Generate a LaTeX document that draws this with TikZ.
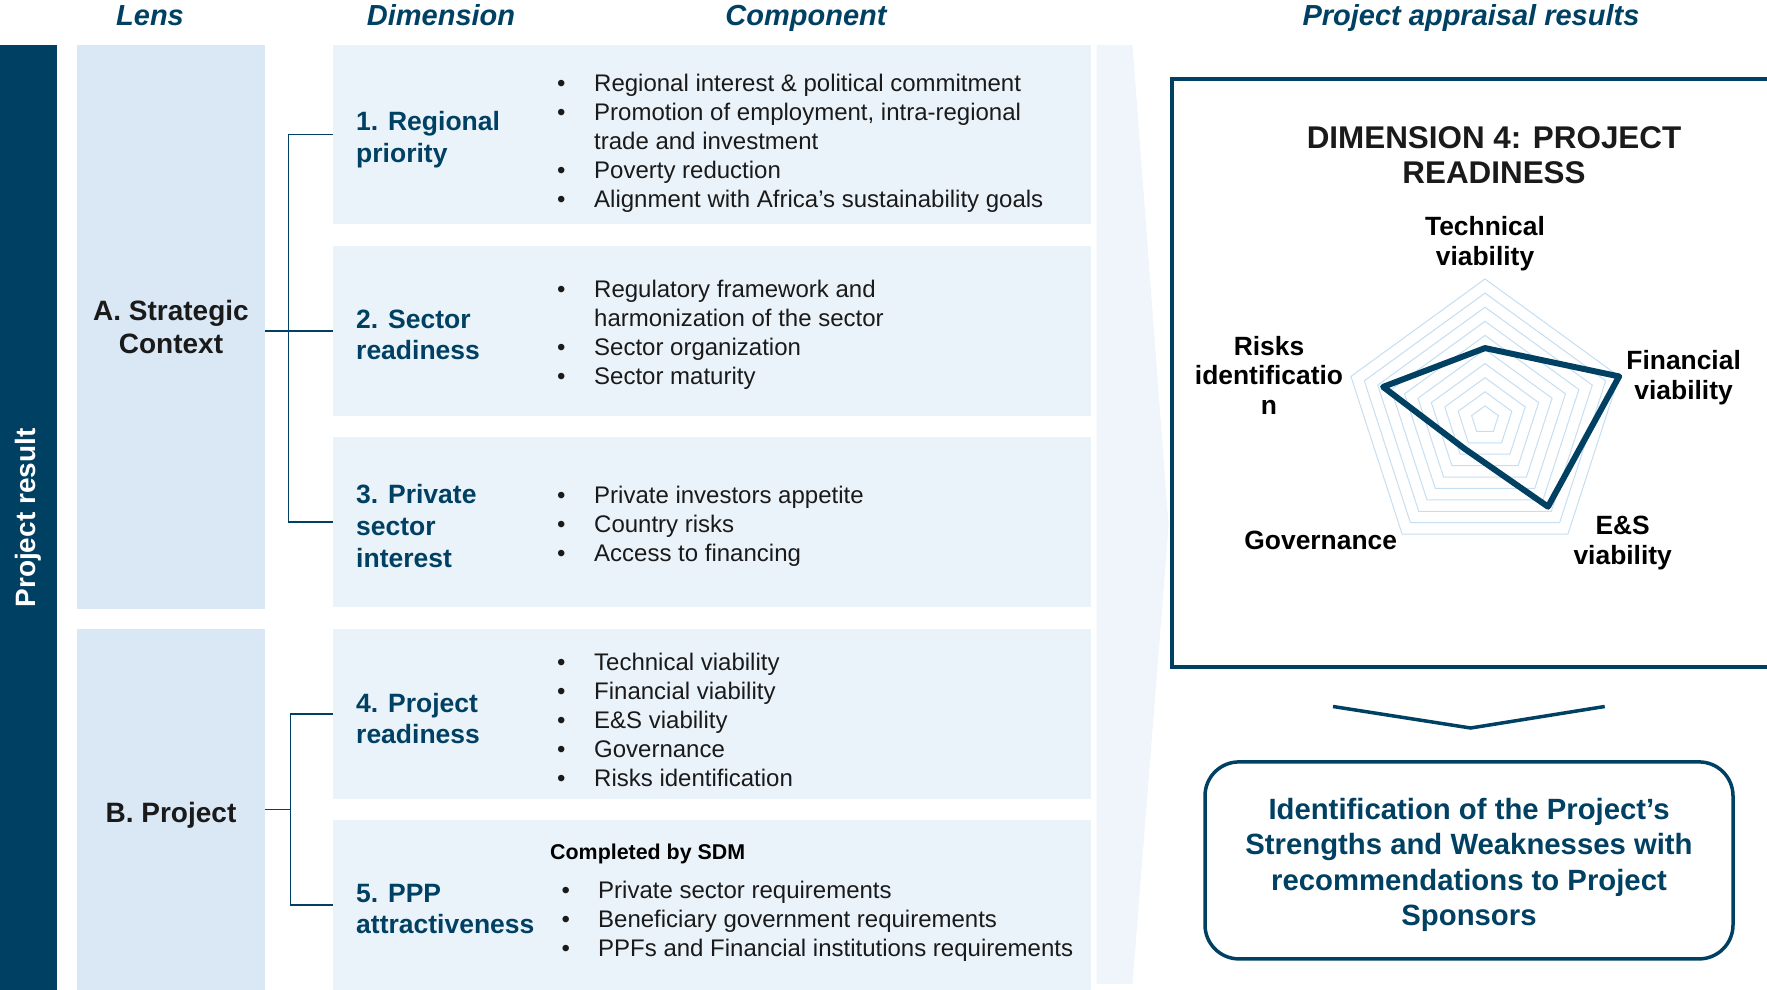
\documentclass[tikz,border=0pt]{standalone}
\usepackage{fontspec}
\setmainfont{Liberation Sans}
\usetikzlibrary{positioning}
\definecolor{navy}{RGB}{0,64,98}
\definecolor{lensfill}{RGB}{218,232,245}
\definecolor{dimfill}{RGB}{235,243,250}
\definecolor{arrowfill}{RGB}{239,245,250}
\definecolor{gridline}{RGB}{197,222,242}
\definecolor{ink}{RGB}{26,26,26}
\newcommand{\bul}[1]{\makebox[37pt][l]{\textbullet}#1}
\newcommand{\cont}[1]{\hspace*{37pt}#1}

\begin{document}
\begin{tikzpicture}[x=1pt,y=-1pt,
  head/.style={anchor=base,text=navy,font=\fontsize{29}{34}\selectfont\bfseries\itshape},
  lensbox/.style={fill=lensfill,minimum width=188pt,inner sep=0pt,align=center,text=ink,font=\fontsize{28}{32.7}\selectfont\bfseries},
  dimbox/.style={fill=dimfill,minimum width=758pt,inner sep=0pt},
  dimlabel/.style={anchor=west,align=left,inner sep=0pt,text=navy,font=\fontsize{26.5}{31.6}\selectfont\bfseries},
  comp/.style={anchor=west,align=left,inner sep=0pt,text=ink,font=\fontsize{24}{29}\selectfont},
  brk/.style={draw=navy,line width=1.2pt},
  axlabel/.style={align=center,inner sep=0pt,text=black,font=\fontsize{26.4}{29.5}\selectfont\bfseries},
  ring/.style={draw=gridline,line width=1pt},
]
  \def\W{1767}
  \def\H{990}
  \def\R{141}
  \useasboundingbox (0,0) rectangle (\W,\H);

  % headers
  \node[head] (hLens) at (150,26) {Lens};
  \node[head] (hDim) at (441,26) {Dimension};
  \node[head] (hComp) at (806,26) {Component};
  \node[head] (hRes) at (1471,26) {Project appraisal results};

  % left bar
  \fill[navy] (0,45) rectangle (57,\H);
  \node[rotate=90,text=white,font=\fontsize{28}{32}\selectfont\bfseries] (resLabel) at (28,518) {Project result};

  % lenses
  \node[lensbox,minimum height=564pt] (lensA) at (171,327) {A. Strategic\\Context};
  \node[lensbox,minimum height=361pt] (lensB) at (171,809.5) {};
  \node[lensbox,fill=none,minimum height=0pt] (lensBText) at ([yshift=-5.5pt]lensB.center) {B. Project};

  % dimension boxes
  \node[dimbox,minimum height=179pt] (dim1) at (712,134.5) {};
  \node[dimbox,minimum height=170pt] (dim2) at (712,331) {};
  \node[dimbox,minimum height=170pt] (dim3) at (712,522) {};
  \node[dimbox,minimum height=170pt] (dim4) at (712,714) {};
  \node[dimbox,minimum height=170pt] (dim5) at (712,905) {};

  \node[dimlabel] (lab1) at (356,139.5) {1. Regional\\priority};
  \node[dimlabel] (lab2) at (356,335) {2. Sector\\readiness};
  \node[dimlabel] (lab3) at (356,526) {3. Private\\sector\\interest};
  \node[dimlabel] (lab4) at (356,718.5) {4. Project\\readiness};
  \node[dimlabel] (lab5) at (356,909) {5. PPP\\attractiveness};

  % components
  \node[comp] (comp1) at (557,143) {\bul{Regional interest \& political commitment}\\
    \bul{Promotion of employment, intra-regional}\\
    \cont{trade and investment}\\
    \bul{Poverty reduction}\\
    \bul{Alignment with Africa’s sustainability goals}};
  \node[comp] (comp2) at (557,334.5) {\bul{Regulatory framework and}\\
    \cont{harmonization of the sector}\\
    \bul{Sector organization}\\
    \bul{Sector maturity}};
  \node[comp] (comp3) at (557,526) {\bul{Private investors appetite}\\
    \bul{Country risks}\\
    \bul{Access to financing}};
  \node[comp] (comp4) at (557,719.5) {\bul{Technical viability}\\
    \bul{Financial viability}\\
    \bul{E\&S viability}\\
    \bul{Governance}\\
    \bul{Risks identification}};
  \node[comp,text=black,font=\fontsize{21.4}{25}\selectfont\bfseries] (sdm) at (550,854) {Completed by SDM};
  \node[comp] (comp5) at (561.5,921) {\makebox[36.5pt][l]{\textbullet}Private sector requirements\\
    \makebox[36.5pt][l]{\textbullet}Beneficiary government requirements\\
    \makebox[36.5pt][l]{\textbullet}PPFs and Financial institutions requirements};

  % brackets
  \coordinate (spA) at (288.5,0);
  \coordinate (spB) at (290.7,0);
  \draw[brk] (dim1.west) -| (spA |- dim3.west) -- (dim3.west);
  \draw[brk] (lensA.east |- dim2.west) -- (dim2.west);
  \draw[brk] (dim4.west) -| (spB |- dim5.west) -- (dim5.west);
  \draw[brk] (lensB.east) -- (spB |- lensB.east);

  % arrow band
  \fill[arrowfill] (1096.5,45) -- (1132.5,45) -- (1168.6,526) -- (1132.5,984) -- (1096.5,984) -- cycle;

  % appraisal frame
  \draw[navy,line width=3.5pt] (1172,79) rectangle (1800,667);
  \node[align=center,text=ink,font=\fontsize{31.4}{35}\selectfont\bfseries] (title) at (1494,155) {DIMENSION 4: PROJECT\\READINESS};

  % radar
  \begin{scope}[shift={(1485,420)}]
    \foreach \k in {1,...,10}
      \draw[ring] (-90:\k*\R/10) -- (-18:\k*\R/10) -- (54:\k*\R/10) -- (126:\k*\R/10) -- (198:\k*\R/10) -- cycle;
    \draw[navy,line width=6pt,line join=round] (-90:0.51*\R) -- (-18:1.0*\R) -- (54:0.76*\R) -- (126:0.25*\R) -- (198:0.76*\R) -- cycle;
  \end{scope}
  \node[axlabel] (lTech) at (1485,243.5) {Technical\\viability};
  \node[axlabel] (lFin) at (1683.6,377.5) {Financial\\viability};
  \node[axlabel] (lES) at (1622.7,543) {E\&S\\viability};
  \node[axlabel] (lGov) at (1320.7,540) {Governance};
  \node[axlabel] (lRisk) at (1269,375) {Risks\\identificatio\\n};

  % pointer
  \coordinate (vL) at (1333,706.5);
  \coordinate (vM) at (1470.6,728);
  \coordinate (vR) at (1604.7,706.5);
  \draw[navy,line width=3.5pt] (vL) -- (vM) -- (vR);

  % outcome
  \node[draw=navy,line width=3.5pt,rounded corners=34pt,minimum width=528pt,minimum height=197pt] (outcome) at (1469,860.4) {};
  \node[align=center,text=navy,font=\fontsize{29.3}{35.2}\selectfont\bfseries] (outcomeText) at ([yshift=-4.5pt]outcome.center)
    {Identification of the Project’s\\Strengths and Weaknesses with\\recommendations to Project\\Sponsors};
\end{tikzpicture}
\end{document}
